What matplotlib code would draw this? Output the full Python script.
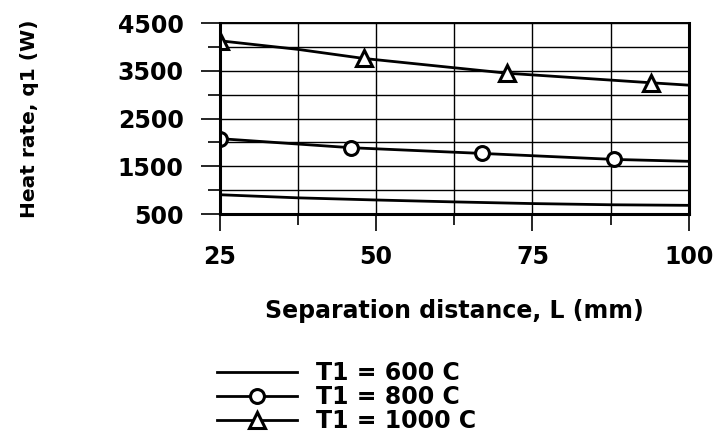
import numpy as np
import matplotlib
matplotlib.use('Agg')
import matplotlib.pyplot as plt
from matplotlib.ticker import MultipleLocator

# Data
L_600 = [25, 37.5, 50, 62.5, 75, 87.5, 100]
q_600 = [905, 840, 795, 755, 720, 695, 683]

L_800 = [25, 46, 67, 88, 100]
q_800 = [2080, 1890, 1770, 1645, 1605]

L_1000 = [25, 37.5, 48, 71, 94, 100]
q_1000 = [4130, 3950, 3760, 3450, 3250, 3200]

labels = ['T1 = 600 C', 'T1 = 800 C', 'T1 = 1000 C']
y_ticks = [500, 1500, 2500, 3500, 4500]
x_ticks = [25, 50, 75, 100]

plt.rcParams['font.family'] = ['DejaVu Sans']
plt.rcParams['font.weight'] = 'bold'
plt.rcParams['axes.labelweight'] = 'bold'
fs = 17

fig = plt.figure(figsize=(7.16, 4.36), dpi=100)
ax = fig.add_axes([0.307, 0.509, 0.655, 0.438])

ax.plot(L_600, q_600, color='black', lw=2, label=labels[0])
ax.plot(L_800, q_800, color='black', lw=2, marker='o', markersize=10,
        markerfacecolor='white', markeredgewidth=2.2, markevery=[0, 1, 2, 3],
        label=labels[1])
ax.plot(L_1000, q_1000, color='black', lw=2, marker='^', markersize=11,
        markerfacecolor='white', markeredgewidth=2.2, markevery=[0, 2, 3, 4],
        label=labels[2])

ax.set_xlim(25, 100)
ax.set_ylim(500, 4500)
ax.set_xticks(x_ticks)
ax.set_yticks(y_ticks)
ax.xaxis.set_minor_locator(MultipleLocator(12.5))
ax.yaxis.set_minor_locator(MultipleLocator(500))
ax.grid(which='both', color='black', lw=1)
ax.tick_params(axis='y', which='major', length=14, width=1.2, labelsize=fs, pad=12)
ax.tick_params(axis='x', which='major', length=12, width=1.2, labelsize=fs, pad=10)
ax.tick_params(axis='y', which='minor', length=9, width=1.2)
ax.tick_params(axis='x', which='minor', length=8, width=1.2)
for side in ['left', 'bottom', 'right']:
    ax.spines[side].set_linewidth(2.2)
ax.spines['top'].set_linewidth(1.4)

ax.set_ylabel('Heat rate, q1 (W)', fontsize=14.5)
ax.set_xlabel('Separation distance, L (mm)', fontsize=fs, labelpad=22)
ax.yaxis.set_label_coords(-0.385, 0.5)

fig.legend(loc='upper left', bbox_to_anchor=(0.303, 0.172), frameon=False,
           fontsize=fs, handlelength=3.4, handletextpad=0.8, labelspacing=0.0,
           borderpad=0, borderaxespad=0)

fig.savefig('out.png', dpi=100)
